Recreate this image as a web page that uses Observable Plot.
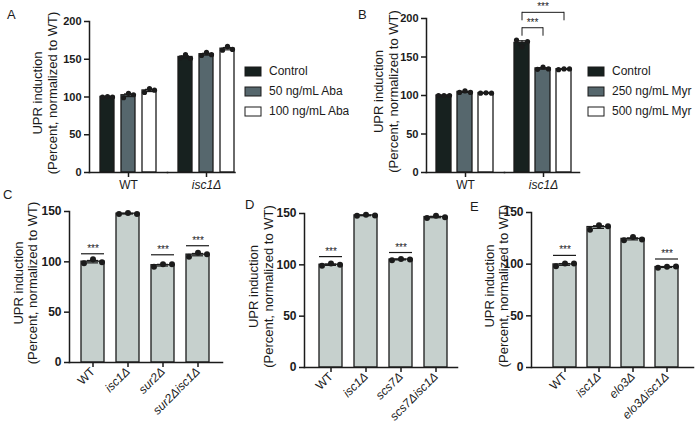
<!DOCTYPE html>
<html><head><meta charset="utf-8">
<script src="https://cdn.jsdelivr.net/npm/d3@7"></script>
<script src="https://cdn.jsdelivr.net/npm/@observablehq/plot@0.6"></script>
<style>
html,body{margin:0;padding:0;background:#fff}
#fig{position:relative;width:700px;height:426px;overflow:hidden;background:#fff;font-family:"Liberation Sans",Arial,sans-serif;color:#1b1b1b}
.panel{position:absolute}
.panel svg{overflow:visible}
.letter{position:absolute;font-size:13px;line-height:15px}
.lg-swatches{font-family:"Liberation Sans",Arial,sans-serif;font-size:12px;color:#1b1b1b;margin:0}
.lg-swatch{margin-bottom:5px}
.lg-swatch svg{margin-right:8px}
.lg-swatch svg rect{stroke:#1b1b1b;stroke-width:1}
</style></head>
<body><div id="fig"></div>
<script>
const FONT = '"Liberation Sans", Arial, sans-serif';
const INK = "#1b1b1b";
const yLabel = "UPR induction\n(Percent, normalized to WT)";
const panelLetters = ["A", "B", "C", "D", "E"];

// Panels A & B: grouped bars
const genotypesAB = ["WT", "isc1Δ"];
const treatmentsA = ["Control", "50 ng/mL Aba", "100 ng/mL Aba"];
const treatmentsB = ["Control", "250 ng/mL Myr", "500 ng/mL Myr"];
const barColorsAB = ["#17211f", "#56676d", "#ffffff"];
const ticksAB = [0, 50, 100, 150, 200];
// replicates: one row per treatment
const repsA_WT   = [[100, 100.5, 100], [99, 105, 103], [106, 111, 109]];
const repsA_isc1 = [[152, 156, 151], [155, 159, 156], [162, 167, 163]];
const repsB_WT   = [[100, 100, 100], [104, 106, 104], [103, 103.5, 103]];
const repsB_isc1 = [[172, 163, 170], [134, 137, 134.5], [133.5, 134.5, 134.5]];
const bracketsB = [
  {genotype: "isc1Δ", from: "Control", to: "250 ng/mL Myr", level: 188},
  {genotype: "isc1Δ", from: "Control", to: "500 ng/mL Myr", level: 208}
];

// Panels C, D, E: single bars
const ticksCDE = [0, 50, 100, 150];
const barGrey = "#c6d0cd";
const genotypesC = ["WT", "isc1Δ", "sur2Δ", "sur2Δisc1Δ"];
const repsC = [[98.5, 102.5, 99.5], [147.5, 148.5, 147.5], [95, 97.5, 97.5], [105, 109, 107.5]];
const sigC = [{genotype: "WT", level: 108}, {genotype: "sur2Δ", level: 107}, {genotype: "sur2Δisc1Δ", level: 116}];
const genotypesD = ["WT", "isc1Δ", "scs7Δ", "scs7Δisc1Δ"];
const repsD = [[99, 101.3, 100], [147.7, 148.7, 148], [104.5, 105.8, 105.2], [145.5, 147.7, 146.4]];
const sigD = [{genotype: "WT", level: 108}, {genotype: "scs7Δ", level: 112}];
const genotypesE = ["WT", "isc1Δ", "elo3Δ", "elo3Δisc1Δ"];
const repsE = [[98, 100.6, 100.6], [133.4, 137.6, 136.7], [123.2, 126.4, 123.8], [96.5, 97.4, 97.7]];
const sigE = [{genotype: "WT", level: 108.5}, {genotype: "elo3Δisc1Δ", level: 105}];

const fig = document.getElementById("fig");

function summarize(genotype, treatment, reps) {
  const mean = d3.mean(reps);
  const sem = d3.deviation(reps) / Math.sqrt(reps.length);
  return {genotype, treatment, reps, mean, lo: mean - sem, hi: mean + sem};
}
function toDots(rows) {
  return rows.flatMap(r => r.reps.map((value, rep) => ({genotype: r.genotype, treatment: r.treatment, value, rep})));
}
function place(node, left, top) {
  const d = document.createElement("div");
  d.className = "panel";
  d.style.left = left + "px";
  d.style.top = top + "px";
  d.appendChild(node);
  fig.appendChild(d);
}
function yLabelMark(dx, extra = {}) {
  return Plot.text([yLabel], {text: d => d, frameAnchor: "left", rotate: -90, dx, dy: -4,
    textAnchor: "middle", lineAnchor: "middle",
    fontSize: 13, lineHeight: 1.08, fill: INK, ...extra});
}

function groupedPanel(cfg) {
  const rows = [[genotypesAB[0], cfg.repsWT], [genotypesAB[1], cfg.repsIsc1]]
    .flatMap(([g, reps]) => cfg.treatments.map((t, i) => summarize(g, t, reps[i])));
  const dots = toDots(rows);
  const fxy = {fx: "genotype", x: "treatment"};
  const brackets = cfg.brackets || [];
  const legs = brackets.flatMap(b => [
    {genotype: b.genotype, x: b.from, level: b.level},
    {genotype: b.genotype, x: b.to, level: b.level}
  ]);
  const build = (extra) => Plot.plot({
    width: cfg.width, height: 200,
    marginLeft: cfg.marginLeft, marginRight: cfg.marginRight, marginTop: cfg.marginTop, marginBottom: 28,
    style: {fontFamily: FONT, color: INK, background: "transparent", overflow: "visible"},
    fx: {domain: genotypesAB, padding: 0},
    x: {domain: cfg.treatments, paddingInner: cfg.padIn, paddingOuter: cfg.padOut, axis: null},
    y: {domain: [0, 200]},
    color: {domain: cfg.treatments, range: barColorsAB},
    marks: [
      Plot.barY(rows, {...fxy, y: "mean", fill: "treatment", stroke: INK, strokeWidth: 1.3}),
      Plot.ruleX(rows, {...fxy, y1: "lo", y2: "hi", stroke: INK, strokeWidth: 1.2}),
      Plot.tickY(rows, {...fxy, y: "lo", stroke: INK, strokeWidth: 1.2, insetLeft: cfg.cap, insetRight: cfg.cap}),
      Plot.tickY(rows, {...fxy, y: "hi", stroke: INK, strokeWidth: 1.2, insetLeft: cfg.cap, insetRight: cfg.cap}),
      ...[0, 1, 2].map(i => Plot.dot(dots.filter(d => d.rep === i),
        {...fxy, y: "value", r: 2.6, fill: INK, stroke: "none", dx: cfg.dotDx[i]})),
      Plot.link(brackets, {fx: "genotype", x1: "from", x2: "to", y1: "level", y2: "level", stroke: INK, strokeWidth: 1}),
      Plot.ruleX(legs, {fx: "genotype", x: "x", y1: "level", y2: d => d.level - 11, stroke: INK, strokeWidth: 1}),
      Plot.axisY({ticks: ticksAB, tickSize: 5, tickPadding: 3, fontSize: 11, fontWeight: "bold",
        stroke: INK, strokeWidth: 1.5, label: null}),
      Plot.axisFx({anchor: "bottom", ticks: [genotypesAB[0]], tickSize: 5, tickPadding: 3, fontSize: 12,
        stroke: INK, strokeWidth: 1.5, label: null}),
      Plot.axisFx({anchor: "bottom", ticks: [genotypesAB[1]], tickSize: 5, tickPadding: 3, fontSize: 12,
        fontStyle: "italic", stroke: INK, strokeWidth: 1.5, label: null}),
      Plot.frame({anchor: "left", facetAnchor: "left", stroke: INK, strokeWidth: 1.5, strokeLinecap: "square"}),
      Plot.frame({anchor: "bottom", facetAnchor: "left", stroke: INK, strokeWidth: 1.5, strokeLinecap: "square"}),
      Plot.frame({anchor: "bottom", facetAnchor: "right", insetRight: cfg.endInset, stroke: INK, strokeWidth: 1.5}),
      yLabelMark(cfg.labelDx, {facetAnchor: "left"}),
      ...extra
    ]
  });
  let plot = build([]);
  if (brackets.length) {
    const sx = plot.scale("x");
    const stars = brackets.map(b => Plot.text([b], {fx: "genotype", x: "from", y: "level", text: () => "***",
      dx: (sx.apply(b.to) - sx.apply(b.from)) / 2, lineAnchor: "bottom", dy: -2, fontSize: 10, fill: INK}));
    plot = build(stars);
  }
  place(plot, cfg.left, 0);
  const legend = plot.legend("color", {legend: "swatches", columns: 1, swatchWidth: 16, swatchHeight: 9, className: "lg"});
  place(legend, cfg.legendLeft, 64);
}

function simplePanel(cfg) {
  const rows = cfg.genotypes.map((g, i) => summarize(g, g, cfg.reps[i]));
  const dots = toDots(rows);
  const xs = {x: "genotype"};
  const plot = Plot.plot({
    width: cfg.width, height: 231,
    marginLeft: cfg.marginLeft, marginRight: cfg.marginRight, marginTop: cfg.marginTop, marginBottom: cfg.marginBottom,
    style: {fontFamily: FONT, color: INK, background: "transparent", overflow: "visible"},
    x: {domain: cfg.genotypes, padding: 0.33, ...(cfg.xRange ? {range: cfg.xRange} : {})},
    y: {domain: [0, 150]},
    marks: [
      Plot.barY(rows, {...xs, y: "mean", fill: barGrey, stroke: INK, strokeWidth: 1.3}),
      Plot.ruleX(rows, {...xs, y1: "lo", y2: "hi", stroke: INK, strokeWidth: 1.2}),
      Plot.tickY(rows, {...xs, y: "lo", stroke: INK, strokeWidth: 1.2, insetLeft: 6, insetRight: 6}),
      Plot.tickY(rows, {...xs, y: "hi", stroke: INK, strokeWidth: 1.2, insetLeft: 6, insetRight: 6}),
      ...[0, 1, 2].map(i => Plot.dot(dots.filter(d => d.rep === i),
        {...xs, y: "value", r: 3, fill: INK, stroke: "none", dx: [-9, 0, 9][i]})),
      Plot.tickY(cfg.sig, {...xs, y: "level", stroke: INK, strokeWidth: 1.2}),
      Plot.text(cfg.sig, {...xs, y: "level", text: () => "***", fontSize: 10, lineAnchor: "bottom", dy: -2, fill: INK}),
      Plot.axisY({ticks: ticksCDE, tickSize: 5, tickPadding: 3, fontSize: 12, fontWeight: "bold",
        stroke: INK, strokeWidth: 1.5, label: null}),
      Plot.axisX({ticks: [cfg.genotypes[0]], tickRotate: -45, tickSize: 5, tickPadding: 2, fontSize: 12,
        stroke: INK, strokeWidth: 1.5, label: null}),
      Plot.axisX({ticks: cfg.genotypes.slice(1), tickRotate: -45, tickSize: 5, tickPadding: 2, fontSize: 12,
        fontStyle: "italic", stroke: INK, strokeWidth: 1.5, label: null}),
      Plot.frame({anchor: "left", stroke: INK, strokeWidth: 1.5, strokeLinecap: "square"}),
      Plot.frame({anchor: "bottom", stroke: INK, strokeWidth: 1.5, strokeLinecap: "square"}),
      yLabelMark(cfg.labelDx)
    ]
  });
  place(plot, cfg.left, 195);
}

groupedPanel({treatments: treatmentsA, repsWT: repsA_WT, repsIsc1: repsA_isc1, left: 0, width: 250,
  marginLeft: 88, marginRight: 4.5, marginTop: 21, padIn: 0.35, padOut: 0.51, cap: 3, dotDx: [-5, 0, 5],
  endInset: 10.5, labelDx: -44.5, legendLeft: 245});
groupedPanel({treatments: treatmentsB, repsWT: repsB_WT, repsIsc1: repsB_isc1, brackets: bracketsB, left: 340, width: 250,
  marginLeft: 86, marginRight: 8, marginTop: 18, padIn: 0.28, padOut: 0.44, cap: 3.5, dotDx: [-5.5, 0, 5.5],
  endInset: 3, labelDx: -40.5, legendLeft: 588});
simplePanel({genotypes: genotypesC, reps: repsC, sig: sigC, left: 0, width: 230,
  marginLeft: 69, marginRight: 8, marginTop: 16, marginBottom: 64, labelDx: -44});
simplePanel({genotypes: genotypesD, reps: repsD, sig: sigD, left: 230, width: 230,
  marginLeft: 74, marginRight: 3, marginTop: 18, marginBottom: 59, xRange: [76, 231], labelDx: -43.5});
simplePanel({genotypes: genotypesE, reps: repsE, sig: sigE, left: 460, width: 240,
  marginLeft: 71, marginRight: 7, marginTop: 17, marginBottom: 59, xRange: [80, 230], labelDx: -35});

const letterPos = [[7, 7], [358, 7], [3, 187], [245, 197], [470, 199]];
panelLetters.forEach((t, i) => {
  const d = document.createElement("div");
  d.className = "letter";
  d.textContent = t;
  d.style.left = letterPos[i][0] + "px";
  d.style.top = letterPos[i][1] + "px";
  fig.appendChild(d);
});
</script></body></html>
